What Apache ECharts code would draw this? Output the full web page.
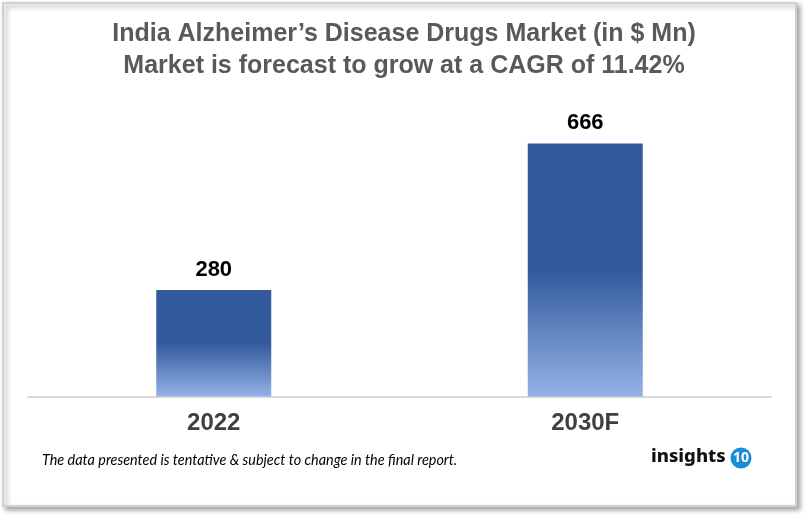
<!DOCTYPE html>
<html><head><meta charset="utf-8">
<script src="https://cdn.jsdelivr.net/npm/echarts@6/dist/echarts.min.js"></script>
<style>html,body{margin:0;padding:0;background:#fff}#c{width:808px;height:520px}</style>
</head><body><div id="c"></div>
<script>
const categories = ['2022', '2030F'];
const values = [280, 666];
const titleLines = ['India Alzheimer\u2019s Disease Drugs Market (in $ Mn)', 'Market is forecast to grow at a CAGR of 11.42%'];
const footnote = 'The data presented is tentative & subject to change in the final report.';

const chart = echarts.init(document.getElementById('c'), null, {renderer: 'canvas'});
const barGrad = new echarts.graphic.LinearGradient(0, 0, 0, 1, [
  {offset: 0, color: '#335A9D'},
  {offset: 0.5, color: '#335A9D'},
  {offset: 1, color: '#94B2E6'}
]);
chart.setOption({
  animation: false,
  backgroundColor: '#fff',
  title: {
    text: titleLines.join('\n'),
    left: 'center', top: 13,
    textStyle: {fontFamily: 'Liberation Sans', fontWeight: 'bold', fontSize: 25, color: '#595959', lineHeight: 32}
  },
  grid: {left: 28, right: 37, top: 92.5, bottom: 123.5},
  xAxis: {
    type: 'category', data: categories,
    axisLine: {lineStyle: {color: '#D9D9D9', width: 2}},
    axisTick: {show: false},
    axisLabel: {fontFamily: 'Liberation Sans', fontWeight: 'bold', fontSize: 24, color: '#404040', margin: 15}
  },
  yAxis: {type: 'value', min: 0, max: 800, show: false},
  series: [{
    type: 'bar', data: values, barWidth: 115,
    itemStyle: {color: barGrad},
    label: {show: true, position: 'top', distance: 9, fontFamily: 'Liberation Sans', fontWeight: 'bold', fontSize: 22, color: '#000'}
  }],
  graphic: [
    {type: 'rect', z: -10, shape: {x: 3, y: 3, width: 793, height: 503},
     style: {fill: '#fff', stroke: '#D0D0D0', lineWidth: 2, shadowColor: 'rgba(0,0,0,0.35)', shadowBlur: 5, shadowOffsetX: 3, shadowOffsetY: 3}},
    {type: 'text', x: 42, y: 460, style: {text: footnote, font: 'italic 14.4px Lato', fill: '#000', verticalAlign: 'middle'}},
    {type: 'text', x: 651, y: 457, style: {text: 'insights', font: '800 18.5px "Noto Sans"', fill: '#111', verticalAlign: 'middle'}},
    {type: 'circle', shape: {cx: 741, cy: 458, r: 10.5}, style: {fill: '#1A8CD6'}},
    {type: 'text', x: 741, y: 458.5, style: {text: '10', font: 'bold 14px "Noto Sans"', fill: '#fff', align: 'center', verticalAlign: 'middle'}}
  ]
});
</script></body></html>
